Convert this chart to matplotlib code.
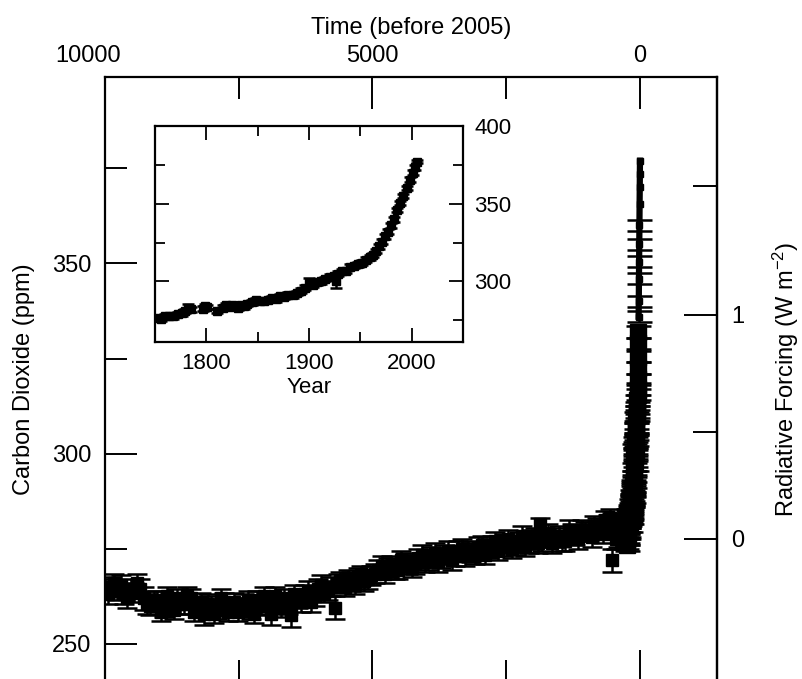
import numpy as np
import matplotlib
matplotlib.use("Agg")
import matplotlib.pyplot as plt
from matplotlib.ticker import FixedLocator
import matplotlib.transforms as mtransforms

plt.rcParams['font.family'] = ['Liberation Sans', 'DejaVu Sans']
plt.rcParams['mathtext.fontset'] = 'custom'
plt.rcParams['mathtext.rm'] = 'Liberation Sans'
plt.rcParams['mathtext.it'] = 'Liberation Sans:italic'

# ---------------- data ----------------
# Holocene ice-core record A: years before 2005, CO2 (ppm), half error bar
holo_age = [10000, 9900, 9780, 9650, 9520, 9400, 9280, 9150, 9030, 8900,
            8780, 8650, 8520, 8400, 8270, 8150, 8020, 7900, 7770, 7650,
            7520, 7400, 7270, 7150, 7020, 6900, 6770, 6650, 6520, 6400,
            6270, 6150, 6020, 5900, 5780, 5700, 5650, 5520, 5400, 5270,
            5150, 5020, 4900, 4770, 4650, 4520, 4400, 4270, 4150, 4020,
            3900, 3770, 3650, 3520, 3400, 3270, 3150, 3020, 2900, 2770,
            2650, 2520, 2400, 2270, 2150, 2020, 1900, 1870, 1770, 1650,
            1520, 1400, 1270, 1150, 1020, 900, 800, 700, 600, 520,
            450, 380, 525, 300, 280, 260]
holo_co2 = [264.5, 265.0, 264.0, 263.0, 264.5, 266.0, 262.0, 260.0, 261.5, 259.5,
            261.0, 262.0, 260.5, 262.0, 259.5, 258.0, 260.0, 259.0, 261.0, 259.5,
            258.5, 260.5, 259.0, 261.5, 262.5, 258.0, 261.0, 262.0, 257.5, 262.0,
            263.0, 261.0, 264.5, 263.5, 265.0, 259.5, 266.0, 265.0, 266.5, 267.5,
            266.5, 268.0, 269.5, 268.5, 270.5, 269.5, 271.5, 270.0, 272.5, 271.5,
            273.0, 271.5, 273.5, 272.0, 274.5, 273.0, 274.0, 275.5, 273.5, 276.0,
            274.5, 276.5, 275.0, 277.0, 275.5, 277.5, 276.5, 281.5, 278.0, 276.5,
            278.5, 277.0, 279.0, 277.5, 279.5, 278.0, 280.5, 279.0, 281.5, 282.0,
            277.5, 279.5, 272.0, 281.0, 279.0, 282.5]
holo_err = [2.5, 2.5, 2.5, 2.5, 2.5, 2.5, 3.0, 2.5, 2.5, 2.5,
            2.5, 2.5, 2.5, 2.5, 2.5, 3.0, 2.5, 2.5, 2.5, 2.5,
            2.5, 2.5, 2.5, 2.5, 2.5, 3.0, 2.5, 2.5, 3.0, 2.5,
            2.5, 2.5, 2.5, 2.5, 2.5, 3.0, 2.5, 2.5, 2.5, 2.5,
            2.5, 2.5, 2.5, 2.5, 2.5, 2.5, 2.5, 2.5, 2.5, 2.5,
            2.5, 2.5, 2.5, 2.5, 2.5, 2.5, 2.5, 2.5, 2.5, 2.5,
            2.5, 2.5, 2.5, 2.5, 2.5, 2.5, 2.5, 1.5, 2.5, 2.5,
            2.5, 2.5, 2.5, 2.5, 2.5, 2.5, 2.5, 2.5, 2.5, 2.5,
            2.5, 2.5, 3.0, 2.5, 2.5, 2.5]

# Holocene ice-core record B: years before 2005, CO2 (ppm)
holo2_age = [9950, 9830, 9700, 9580, 9460, 9340, 9210, 9090, 8960, 8840,
             8710, 8590, 8460, 8330, 8210, 8080, 7960, 7830, 7710, 7580,
             7460, 7330, 7210, 7080, 6960, 6830, 6710, 6580, 6460, 6330,
             6210, 6080, 5960, 5840, 5600, 5460, 5330, 5210, 5080, 4960,
             4830, 4710, 4580, 4460, 4330, 4210, 4080, 3960, 3830, 3710,
             3580, 3460, 3330, 3210, 3080, 2960, 2830, 2710, 2580, 2460,
             2330, 2210, 2080, 1960, 1830, 1710, 1580, 1460, 1330, 1210,
             1080, 960, 850, 750, 650, 560, 480, 410, 350]
holo2_co2 = [263.0, 266.0, 265.5, 262.0, 263.5, 264.5, 260.5, 261.5, 258.5, 262.5,
             259.0, 260.5, 262.5, 258.5, 261.0, 260.5, 258.0, 262.0, 258.5, 261.0,
             259.5, 261.5, 258.0, 260.0, 260.5, 262.5, 259.5, 260.5, 263.0, 261.0,
             264.0, 262.5, 265.5, 264.0, 266.5, 267.0, 265.5, 268.0, 267.0, 268.5,
             270.5, 270.0, 269.5, 272.0, 271.0, 271.0, 273.5, 272.0, 274.0, 272.5,
             274.5, 273.0, 275.0, 274.5, 273.5, 276.0, 275.0, 277.0, 275.5, 277.5,
             276.0, 278.5, 276.5, 278.0, 277.0, 279.0, 278.0, 277.0, 280.0, 278.5,
             280.0, 279.5, 281.0, 280.0, 282.5, 283.0, 280.5, 278.0, 281.5]
holo2_err = 2.5

# Industrial era record: calendar year, CO2 (ppm), half error bar
ind_year = [1752, 1756, 1760, 1764, 1768, 1772, 1776, 1779, 1782, 1785,
            1797, 1799, 1801, 1810, 1816, 1819, 1822, 1825, 1828, 1831,
            1834, 1837, 1840, 1844, 1848, 1852, 1856, 1860, 1864, 1868,
            1872, 1876, 1880, 1884, 1888, 1892, 1896, 1900, 1904, 1908,
            1912, 1916, 1920, 1924, 1926, 1928, 1932, 1936, 1940, 1944,
            1948, 1952, 1956, 1959, 1962, 1965, 1968, 1971, 1974, 1977,
            1980, 1983, 1986, 1989, 1992, 1995, 1998, 2001, 2003, 2005]
ind_co2 = [276.5, 276.0, 277.5, 278.0, 277.5, 279.0, 279.5, 281.0, 283.0, 282.0,
           282.5, 284.0, 283.5, 281.0, 283.0, 284.5, 283.5, 285.0, 284.0, 283.0,
           284.5, 284.0, 285.5, 286.5, 288.0, 287.5, 287.5, 288.0, 289.0, 288.5,
           290.5, 290.0, 291.5, 291.0, 292.5, 294.0, 296.0, 299.0, 298.0, 299.5,
           300.0, 301.5, 303.0, 303.5, 300.5, 305.0, 306.5, 307.0, 309.5, 310.0,
           311.0, 312.0, 314.0, 315.5, 317.0, 319.5, 322.5, 325.5, 329.0, 332.0,
           336.0, 340.0, 346.0, 350.5, 355.0, 360.0, 365.5, 370.0, 373.5, 377.0]
ind_err = [1.5, 1.5, 1.5, 1.5, 1.5, 1.5, 1.5, 1.5, 2.5, 1.5,
           1.5, 1.5, 1.5, 1.5, 1.5, 1.5, 1.5, 1.5, 1.5, 1.5,
           1.5, 1.5, 1.5, 1.5, 1.5, 1.5, 1.5, 1.5, 1.5, 1.5,
           1.5, 1.5, 1.5, 1.5, 1.5, 1.5, 1.5, 3.5, 1.5, 1.5,
           1.5, 1.5, 1.5, 1.5, 5.0, 1.5, 1.5, 1.5, 1.5, 1.5,
           1.5, 1.5, 1.5, 1.5, 1.5, 1.5, 1.5, 1.5, 1.5, 1.5,
           1.5, 1.5, 1.5, 1.5, 1.5, 1.5, 1.5, 1.5, 1.5, 1.0]

reference_year = 2005
rf_scale = 5.2      # W m-2 per ln(C/C0)
rf_ref = 277.6      # ppm at zero forcing

time_major = [10000, 5000, 0]
time_minor = [7500, 2500]
co2_major = [250, 300, 350]
co2_minor = [275, 325, 375]
rf_major = [0, 1]
rf_minor = [0.5, 1.5]
inset_year_major = [1800, 1900, 2000]
inset_year_minor = [1850, 1950]
inset_co2_major = [300, 350, 400]
inset_co2_minor = [275, 325, 375]

# ---------------- figure ----------------
W, H = 803, 679
fig = plt.figure(figsize=(W / 100, H / 100), dpi=100)
fig.patch.set_facecolor('white')

ax = fig.add_axes([105 / W, 1 - 682 / H, 612 / W, 605 / H])
for s in ax.spines.values():
    s.set_linewidth(1.6)

eb_kw = dict(color='black', mec='black', mfc='black',
             ecolor='black', elinewidth=1.8, capthick=1.8)
ax.errorbar(holo_age, holo_co2, yerr=holo_err, fmt='s', ms=8, capsize=7, **eb_kw)
ax.errorbar(holo2_age, holo2_co2, yerr=holo2_err, fmt='s', ms=8, capsize=7, **eb_kw)

ind_age = reference_year - np.array(ind_year)
ind_c = np.array(ind_co2)
ind_e = np.array(ind_err)
lower = ind_c < 336
upper = ~lower
ax.errorbar(ind_age[lower], ind_c[lower], yerr=ind_e[lower], fmt='s', ms=11,
            capsize=9, **eb_kw)
ax.errorbar(ind_age[upper], ind_c[upper], yerr=ind_e[upper], fmt='s-', ms=5,
            lw=4.5, capsize=9, errorevery=ind_c[upper] < 362, **eb_kw)

ax.set_xlim(10000, -1440)
ax.set_ylim(240, 399)

ax.xaxis.set_major_locator(FixedLocator(time_major))
ax.xaxis.set_minor_locator(FixedLocator(time_minor))
ax.tick_params(axis='x', which='both', direction='in', top=True, bottom=True,
               labeltop=True, labelbottom=False, width=1.4, labelsize=17)
ax.tick_params(axis='x', which='major', length=23, pad=7)
ax.tick_params(axis='x', which='minor', length=16)
ax.xaxis.set_label_position('top')
ax.set_xlabel('Time (before 2005)', fontsize=17, labelpad=8)

ax.yaxis.set_major_locator(FixedLocator(co2_major))
ax.yaxis.set_minor_locator(FixedLocator(co2_minor))
ax.tick_params(axis='y', which='both', direction='in', left=True, right=False,
               width=1.4, labelsize=17)
ax.tick_params(axis='y', which='major', length=23, pad=10)
ax.tick_params(axis='y', which='minor', length=16)
ax.set_ylabel('Carbon Dioxide (ppm)', fontsize=17, labelpad=12)


def to_rf(c):
    c = np.asarray(c, dtype=float)
    return rf_scale * np.log(np.clip(c, 1e-6, None) / rf_ref)


def from_rf(f):
    f = np.asarray(f, dtype=float)
    return rf_ref * np.exp(f / rf_scale)


sec = ax.secondary_yaxis('right', functions=(to_rf, from_rf))
sec.spines['right'].set_linewidth(1.6)
sec.yaxis.set_major_locator(FixedLocator(rf_major))
sec.yaxis.set_minor_locator(FixedLocator(rf_minor))
sec.tick_params(axis='y', which='both', direction='in', width=1.4, labelsize=17)
sec.tick_params(axis='y', which='major', length=24, pad=10)
sec.tick_params(axis='y', which='minor', length=17)
sec.set_ylabel('Radiative Forcing (W m$^{-2}$)', fontsize=17, labelpad=19)

# ---------------- inset ----------------
ins = fig.add_axes([155 / W, 1 - 342 / H, 308 / W, 216 / H])
ins.set_facecolor('white')
for s in ins.spines.values():
    s.set_linewidth(1.6)
ins.errorbar(ind_year, ind_co2, yerr=ind_err, fmt='s', ms=6, capsize=4, **eb_kw)
ins.set_xlim(1750, 2050)
ins.set_ylim(261, 400)
ins.xaxis.set_major_locator(FixedLocator(inset_year_major))
ins.xaxis.set_minor_locator(FixedLocator(inset_year_minor))
ins.yaxis.set_major_locator(FixedLocator(inset_co2_major))
ins.yaxis.set_minor_locator(FixedLocator(inset_co2_minor))
ins.tick_params(axis='both', which='both', direction='in', top=True, bottom=True,
                left=True, right=True, labelleft=False, labelright=True,
                width=1.3, labelsize=16)
ins.tick_params(axis='both', which='major', length=10, pad=8)
ins.tick_params(axis='both', which='minor', length=7)
ins.set_xlabel('Year', fontsize=16, labelpad=2)

# shift the leftmost top label like the original
fig.canvas.draw()
for tick in ax.xaxis.get_major_ticks():
    if tick.get_loc() == 10000:
        lab = tick.label2
        lab.set_transform(lab.get_transform() +
                          mtransforms.ScaledTranslation(-17 / 100, 0, fig.dpi_scale_trans))

fig.savefig('out.png', dpi=100, facecolor='white')
